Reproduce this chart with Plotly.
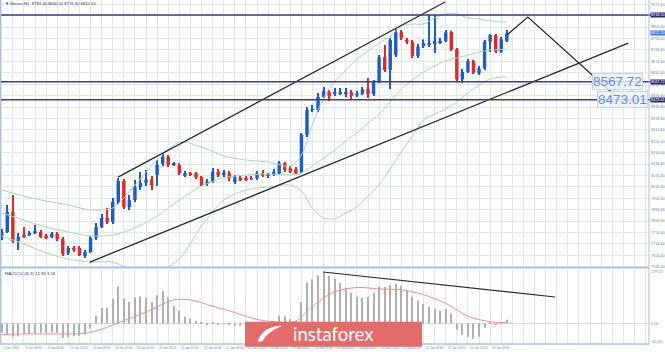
import plotly.graph_objects as go

# ---------------- data ----------------
opens = [7751, 7777, 7882, 7730, 7756, 7761, 7774, 7777, 7756, 7751, 7767, 7740, 7667, 7688, 7693, 7651,
         7672, 7746, 7803, 7851, 7830, 7935, 8045, 7909, 7945, 8014, 8035, 8053, 8077, 8135, 8172, 8133,
         8130, 8072, 8082, 8086, 8065, 8030, 8042, 8094, 8077, 8086, 8040, 8060, 8061, 8061, 8060, 8086,
         8072, 8077, 8086, 8138, 8112, 8107, 8094, 8287, 8419, 8419, 8487, 8514, 8506, 8508, 8508, 8512,
         8495, 8503, 8528, 8503, 8571, 8696, 8629, 8708, 8828, 8787, 8778, 8703, 8755, 8761, 8766, 8773,
         8783, 8828, 8738, 8580, 8620, 8677, 8612, 8638, 8778, 8813, 8726, 8783]
highs = [7793, 7919, 7972, 7772, 7803, 7782, 7814, 7788, 7767, 7777, 7777, 7751, 7703, 7703, 7703, 7682,
         7756, 7824, 7872, 7903, 7956, 8061, 8056, 7972, 8051, 8093, 8103, 8072, 8156, 8193, 8182, 8145,
         8140, 8098, 8093, 8093, 8072, 8056, 8114, 8109, 8103, 8098, 8077, 8072, 8072, 8072, 8098, 8103,
         8087, 8109, 8151, 8145, 8124, 8119, 8298, 8435, 8445, 8508, 8540, 8524, 8535, 8535, 8535, 8524,
         8519, 8540, 8587, 8577, 8708, 8761, 8798, 8845, 8840, 8798, 8787, 8766, 8790, 8919, 8919, 8798,
         8840, 8836, 8745, 8635, 8687, 8682, 8650, 8787, 8819, 8819, 8803, 8840]
lows = [7735, 7772, 7719, 7682, 7746, 7756, 7767, 7746, 7740, 7746, 7730, 7651, 7656, 7672, 7651, 7640,
        7667, 7735, 7798, 7819, 7819, 7924, 7898, 7893, 7935, 7998, 8019, 7998, 8019, 8124, 8119, 8124,
        8077, 8066, 8072, 8056, 8019, 8019, 8035, 8066, 8066, 8045, 8030, 8045, 8045, 8051, 8051, 8066,
        8061, 8072, 8077, 8093, 8087, 8082, 8087, 8277, 8408, 8408, 8482, 8466, 8492, 8498, 8487, 8477,
        8487, 8498, 8482, 8492, 8561, 8619, 8529, 8698, 8787, 8766, 8692, 8692, 8745, 8750, 8719, 8766,
        8777, 8729, 8571, 8562, 8613, 8608, 8603, 8629, 8724, 8719, 8719, 8777]
closes = [7777, 7882, 7730, 7751, 7753, 7772, 7779, 7751, 7748, 7767, 7740, 7661, 7693, 7685, 7656, 7672,
          7746, 7803, 7851, 7830, 7935, 8045, 7909, 7945, 8014, 8035, 8053, 8024, 8130, 8172, 8130, 8135,
          8087, 8086, 8081, 8065, 8024, 8042, 8094, 8077, 8089, 8060, 8065, 8051, 8051, 8056, 8086, 8073,
          8077, 8094, 8138, 8103, 8094, 8086, 8287, 8419, 8424, 8487, 8519, 8490, 8514, 8511, 8510, 8494,
          8506, 8528, 8501, 8571, 8696, 8629, 8787, 8828, 8796, 8778, 8703, 8752, 8770, 8770, 8783, 8783,
          8828, 8738, 8580, 8620, 8677, 8615, 8638, 8778, 8813, 8726, 8791, 8822]

# Bollinger bands (sampled candles)
band_idx = [0, 4, 8, 12, 16, 20, 24, 28, 32, 36, 40, 44, 48, 52, 54, 56, 58, 60, 62, 64, 66, 68, 70, 72,
            74, 76, 78, 80, 82, 84, 86, 88, 90, 91]
band_upper = [7998, 7966, 7940, 7919, 7893, 7903, 8024, 8156, 8250, 8224, 8177, 8156, 8145, 8124, 8182, 8345,
              8482, 8571, 8629, 8687, 8729, 8771, 8808, 8861, 8871, 8871, 8903, 8924, 8924, 8903, 8898, 8887,
              8882, 8882]
band_mid = [7877, 7840, 7803, 7777, 7756, 7761, 7798, 7861, 7945, 8019, 8061, 8077, 8082, 8077, 8087, 8124,
            8166, 8208, 8256, 8298, 8350, 8398, 8461, 8529, 8577, 8619, 8650, 8677, 8692, 8708, 8724, 8734,
            8737, 8740]
band_lower = [7756, 7714, 7667, 7635, 7619, 7619, 7572, 7567, 7635, 7809, 7945, 7998, 8014, 8024, 7993, 7903,
              7851, 7846, 7877, 7909, 7966, 8024, 8109, 8198, 8282, 8366, 8398, 8424, 8461, 8508, 8550, 8582,
              8592, 8592]

# MACD histogram and signal
macd_hist = [-30, -38, -46, -44, -38, -36, -33, -32, -32, -30, -32, -50, -48, -44, -42, -38, -18,
             27, 55, 55, 87, 128, 87, 75, 90, 94, 90, 75, 98, 113, 90, 61, 44, 24, 17, 9, 3,
             -3, 2, -2, 1, -4, -8, -8, -7, -6, 2, 0, 1, 4, 27, 24, 15, 10,
             75, 143, 153, 167, 176,
             166, 155, 141, 124, 107, 93, 89, 93, 107, 127, 127, 134, 138, 131, 117, 93, 79, 68, 58, 51, 44,
             51, 34, -22, -39, -46, -53, -46, -15, 2, -5, 2, 13]
sig_idx = [0, 4, 8, 12, 15, 18, 20, 22, 26, 31, 34, 38, 42, 46, 50, 53, 56, 60, 64, 68, 72, 76, 80, 84, 88, 91]
macd_signal = [-38, -36, -36, -36, -34, -20, -5, 10, 40, 82, 82, 60, 38, 14, 5, 8, 60, 110, 125, 120, 117, 100,
               70, 25, 6, 3]

# analyst drawings (candle index, price)
channel_upper = [(20.95, 8066), (79.9, 8987)]
channel_lower = [(15.9, 7619), (112.9, 8771)]
projection = [(91.1, 8815), (94.8, 8908), (110.0, 8508)]
macd_trend = [(57.9, 178.7), (99.7, 92)]
levels = [8918.50, 8567.72, 8473.01]
big_levels = [8567.72, 8473.01]
last_price = 8822.20

x_labels = ["9 Jan 2020", "9 Jan 08:00", "9 Jan 16:00", "10 Jan 00:00", "10 Jan 08:00", "10 Jan 16:00",
            "11 Jan 00:00", "11 Jan 08:00", "11 Jan 16:00", "12 Jan 00:00", "12 Jan 08:00", "12 Jan 16:00",
            "13 Jan 00:00", "13 Jan 08:00", "13 Jan 16:00", "14 Jan 00:00", "14 Jan 08:00", "14 Jan 16:00",
            "15 Jan 00:00", "15 Jan 08:00", "15 Jan 16:00", "16 Jan 00:00", "16 Jan 08:00"]
price_ticks = [round(7594.6 + 60 * k, 2) for k in range(24)]
macd_ticks = [179.1, 0, -62.5]

# ---------------- figure ----------------
W, H = 665, 352
PX_R = 649 / W
def py(p):  # pixel from top -> paper y
    return 1 - p / H

UP, DN = '#1f5cc7', '#dc2b2b'
n = len(opens)
idx = list(range(n))
colors = [UP if c >= o else DN for o, c in zip(opens, closes)]
body_base = [min(o, c) for o, c in zip(opens, closes)]
body_h = [max(abs(c - o), 4) for o, c in zip(opens, closes)]
wick_h = [h - l for h, l in zip(highs, lows)]

fig = go.Figure()
band_col = '#a6d9b3'
for arr in (band_upper, band_mid, band_lower):
    fig.add_trace(go.Scatter(x=band_idx, y=arr, mode='lines', xaxis='x', yaxis='y',
                             line=dict(color=band_col, width=1, shape='spline', smoothing=0.8),
                             hoverinfo='skip'))
fig.add_trace(go.Bar(x=idx, y=wick_h, base=lows, width=0.2, xaxis='x', yaxis='y',
                     marker=dict(color=colors, line_width=0)))
fig.add_trace(go.Bar(x=idx, y=body_h, base=body_base, width=0.62, xaxis='x', yaxis='y',
                     marker=dict(color=colors, line_width=0)))

for pts in (channel_upper, channel_lower, projection):
    fig.add_trace(go.Scatter(x=[p[0] for p in pts], y=[p[1] for p in pts], mode='lines',
                             xaxis='x', yaxis='y', line=dict(color='#2b2b2b', width=1.3),
                             hoverinfo='skip'))

fig.add_trace(go.Bar(x=idx, y=macd_hist, width=0.2, xaxis='x2', yaxis='y2',
                     marker=dict(color='#b0b0b0', line_width=0)))
fig.add_trace(go.Scatter(x=sig_idx, y=macd_signal, mode='lines', xaxis='x2', yaxis='y2',
                         line=dict(color='#ee9090', width=1, shape='spline', smoothing=0.8)))
fig.add_trace(go.Scatter(x=[p[0] for p in macd_trend], y=[p[1] for p in macd_trend], mode='lines',
                         xaxis='x2', yaxis='y2', line=dict(color='#2b2b2b', width=1.1)))

xr = [-0.31, 116.63]
grid_vals = list(range(0, 117, 2))
gridc = '#e3e8f0'
axis_blue = '#a9bfdc'
tickc = '#6f7f99'
TS = 3.8  # tiny axis text size

shapes = []
for lv in levels:
    shapes.append(dict(type='line', xref='paper', yref='y', x0=0, x1=PX_R + 3 / W, y0=lv, y1=lv,
                       line=dict(color='#3a3a8e', width=1.5)))
shapes += [
    dict(type='line', xref='paper', yref='paper', x0=0, x1=PX_R, y0=py(267.5), y1=py(267.5),
         line=dict(color=axis_blue, width=2.2)),
    dict(type='line', xref='paper', yref='paper', x0=0, x1=PX_R, y0=py(344), y1=py(344),
         line=dict(color=axis_blue, width=1.5)),
    dict(type='line', xref='paper', yref='paper', x0=PX_R, x1=PX_R, y0=py(344), y1=1,
         line=dict(color=axis_blue, width=1)),
    dict(type='line', xref='paper', yref='paper', x0=0.5 / W, x1=0.5 / W, y0=py(344), y1=1,
         line=dict(color=axis_blue, width=1)),
    dict(type='rect', xref='paper', yref='paper', x0=245 / W, x1=422 / W, y0=py(346.7), y1=py(321.7),
         fillcolor='#e46b6b', line=dict(width=0), layer='above'),
    dict(type='path', xref='paper', yref='paper', layer='above',
         path=f"M {258/W},{py(341)} Q {263/W},{py(327)} {281/W},{py(326)} Q {268/W},{py(331)} {262/W},{py(341)} Z",
         fillcolor='white', line=dict(color='white', width=0.8)),
]

ann = []
for k, lab in enumerate(x_labels):
    ann.append(dict(x=4 * k, xref='x2', y=py(347.8), yref='paper', text=lab, showarrow=False,
                    xanchor='left', yanchor='middle', font=dict(size=3.0, color=tickc)))
for lv in levels:
    ann.append(dict(x=649.5 / W, xref='paper', y=lv, yref='y', text=f"{lv:.2f}", showarrow=False,
                    xanchor='left', yanchor='middle', bgcolor='#2a2a6e', borderpad=0,
                    font=dict(size=TS, color='white')))
ann.append(dict(x=649.5 / W, xref='paper', y=last_price, yref='y', text=f"{last_price:.2f}", showarrow=False,
                xanchor='left', yanchor='middle', bgcolor='#3b78d8', borderpad=0,
                font=dict(size=TS, color='white')))
big_right = [643, 648]
for lv, xr_px in zip(big_levels, big_right):
    ann.append(dict(x=xr_px / W, xref='paper', y=lv, yref='y', text=f"{lv:.2f}", showarrow=False,
                    xanchor='right', yanchor='middle', bgcolor='rgba(236,241,252,0.85)',
                    bordercolor='#c7d3ef', borderwidth=1, borderpad=0,
                    font=dict(size=13.5, color='#6e8dd6', family='Liberation Sans')))
ann.append(dict(x=3 / W, xref='paper', y=py(3), yref='paper', text="▼ Bitcoin,H1  8783.40 8840.10 8776.90 8822.20",
                showarrow=False, xanchor='left', yanchor='middle', font=dict(size=4.2, color='#333a4a')))
ann.append(dict(x=3 / W, xref='paper', y=py(273), yref='paper', text="MACD(12,26,9) 12.96 3.18",
                showarrow=False, xanchor='left', yanchor='middle', font=dict(size=4.2, color='#333a4a')))
ann.append(dict(x=333 / W, xref='paper', y=py(333.5), yref='paper', text="instaforex", showarrow=False,
                xanchor='center', yanchor='middle', font=dict(size=18.5, color='white', family='Lato')))

fig.update_layout(
    width=W, height=H, margin=dict(l=0, r=0, t=0, b=0),
    paper_bgcolor='white', plot_bgcolor='white', showlegend=False, barmode='overlay',
    font=dict(family='Liberation Sans'),
    xaxis=dict(domain=[0, PX_R], range=xr, anchor='y', tickvals=grid_vals, showticklabels=False,
               showgrid=True, gridcolor=gridc, gridwidth=1, zeroline=False, showline=False, ticks=''),
    yaxis=dict(domain=[py(267), 1], range=[7593, 8997.4], anchor='x', side='right',
               tickvals=price_ticks, ticktext=[f"{v:.2f}" for v in price_ticks],
               tickfont=dict(size=TS, color=tickc), showgrid=True, gridcolor=gridc, gridwidth=1,
               zeroline=False, showline=False, ticks='', automargin=False, ticklabelstandoff=1),
    xaxis2=dict(domain=[0, PX_R], range=xr, anchor='y2', tickvals=grid_vals, showticklabels=False,
                showgrid=True, gridcolor=gridc, gridwidth=1, zeroline=False, showline=False, ticks=''),
    yaxis2=dict(domain=[py(344), py(270)], range=[-71, 185.6], anchor='x2', side='right',
                tickvals=macd_ticks, ticktext=["179.12", "0.00", "-62.46"],
                tickfont=dict(size=TS, color=tickc), showgrid=False, zeroline=True,
                zerolinecolor='#d3dbe7', zerolinewidth=1, showline=False, ticks='', automargin=False,
                ticklabelstandoff=1),
    shapes=shapes, annotations=ann,
)

fig.write_html("out.html")
